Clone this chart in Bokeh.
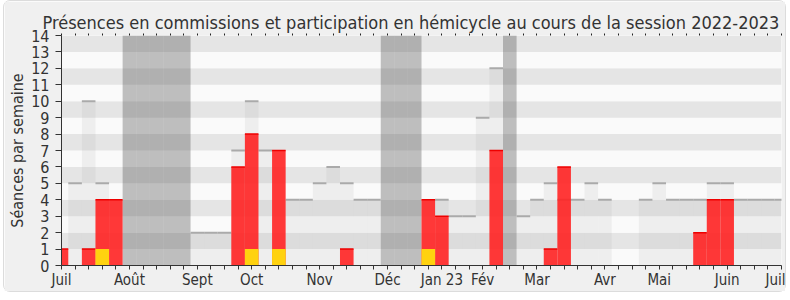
from bokeh.plotting import figure
from bokeh.models import FixedTicker, LinearAxis, Range1d, ColumnDataSource
from bokeh.embed import file_html
from bokeh.resources import INLINE

# ---- data (one value per week, week 0 = first week of July 2022) ----
weeks = list(range(54))
presence_commission = [1, 0, 1, 4, 4, 0, 0, 0, 0, 0,
                       0, 0, 0, 6, 8, 0, 7, 0, 0, 0,
                       0, 1, 0, 0, 0, 0, 0, 4, 3, 0,
                       0, 0, 7, 0, 0, 0, 1, 6, 0, 0,
                       0, 0, 0, 0, 0, 0, 0, 2, 4, 4,
                       0, 0, 0, 0]
questions = [0, 0, 0, 1, 0, 0, 0, 0, 0, 0,
             0, 0, 0, 0, 1, 0, 1, 0, 0, 0,
             0, 0, 0, 0, 0, 0, 0, 1, 0, 0,
             0, 0, 0, 0, 0, 0, 0, 0, 0, 0,
             0, 0, 0, 0, 0, 0, 0, 0, 0, 0,
             0, 0, 0, 0]
hemicycle = [0, 5, 10, 5, 0, 0, 0, 0, 0, 0,
             2, 2, 2, 7, 10, 7, 0, 4, 4, 5,
             6, 5, 4, 4, 0, 0, 0, 0, 4, 3,
             3, 9, 12, 0, 3, 4, 5, 4, 4, 5,
             4, 0, 0, 4, 5, 4, 4, 4, 5, 5,
             4, 4, 4, 4]
vacation_weeks = [5, 6, 7, 8, 9, 24, 25, 26, 33]
month_labels = ["Juil", "Août", "Sept", "Oct", "Nov", "Déc", "Jan 23",
                "Fév", "Mar", "Avr", "Mai", "Juin", "Juil"]
month_weeks = [0, 5, 10, 14, 19, 24, 28, 31, 35, 40, 44, 49, 53]
y_max = 14

FONT = "DejaVu Sans Condensed"
TXT = "#333333"

p = figure(width=783, height=292, margin=(0, 4, 6, 3),
           output_backend="svg", toolbar_location=None,
           x_range=Range1d(0, 53), y_range=Range1d(0, y_max),
           min_border_left=57, min_border_right=6,
           min_border_top=34, min_border_bottom=28,
           title="Présences en commissions et participation en hémicycle au cours de la session 2022-2023")
p.styles = {"border": "1px solid #dcdcdc", "border-radius": "7px"}
p.background_fill_color = "#fafafa"
p.border_fill_color = "#f0f0f0"
p.outline_line_color = None
p.grid.visible = False

p.title.text_font = FONT
p.title.text_font_size = "18px"
p.title.text_font_style = "normal"
p.title.text_color = TXT
p.title.align = "left"
p.title.offset = -19
p.title.standoff = 2

# background bands
band_y = [i + 0.5 for i in range(y_max)]
band_c = ["#fafafa" if i % 2 == 0 else "#e5e5e5" for i in range(y_max)]
p.hbar(y=band_y, height=1, left=0, right=53, fill_color=band_c, line_color=None)

# vacations
p.vbar(x=vacation_weeks, width=1, bottom=0, top=y_max,
       fill_color="#474747", fill_alpha=0.33, line_color=None)

src = ColumnDataSource(dict(w=weeks, hem=hemicycle, com=presence_commission, q=questions))

# hemicycle participation
p.vbar(x="w", width=1, bottom=0, top="hem", source=src,
       fill_color="#999999", fill_alpha=0.12, line_color=None)
hem_top = ColumnDataSource(dict(
    x0=[w - 0.5 for w, h in zip(weeks, hemicycle) if h > 0],
    x1=[w + 0.5 for w, h in zip(weeks, hemicycle) if h > 0],
    y=[h for h in hemicycle if h > 0]))
p.segment(x0="x0", x1="x1", y0="y", y1="y", source=hem_top,
          line_color="#aaaaaa", line_width=2)

# commission presence
p.vbar(x="w", width=1, bottom=0, top="com", source=src,
       fill_color="#ff2222", fill_alpha=0.9, line_color=None)
com_top = ColumnDataSource(dict(
    x0=[w - 0.5 for w, c in zip(weeks, presence_commission) if c > 0],
    x1=[w + 0.5 for w, c in zip(weeks, presence_commission) if c > 0],
    y=[c for c in presence_commission if c > 0]))
p.segment(x0="x0", x1="x1", y0="y", y1="y", source=com_top,
          line_color="#ee0000", line_width=1.5)

# questions
p.vbar(x="w", width=1, bottom=0, top="q", source=src,
       fill_color="#ffd20f", line_color=None)

# axes
xa = p.xaxis[0]
xa.ticker = FixedTicker(ticks=weeks)
xa.major_label_overrides = {w: "" for w in weeks}
xa.major_label_overrides.update({w: lab for w, lab in zip(month_weeks, month_labels)})
xa.major_tick_out = 4
xa.major_tick_in = 0
xa.minor_tick_line_color = None
xa.axis_line_color = "#333333"
xa.major_tick_line_color = "#333333"
xa.major_label_text_font = FONT
xa.major_label_text_font_size = "15px"
xa.major_label_text_color = TXT
xa.major_label_standoff = 1

ya = p.yaxis[0]
ya.ticker = FixedTicker(ticks=list(range(y_max + 1)))
ya.major_tick_out = 6
ya.major_tick_in = 0
ya.minor_tick_line_color = None
ya.axis_line_color = "#333333"
ya.major_tick_line_color = "#333333"
ya.major_label_text_font = FONT
ya.major_label_text_font_size = "16px"
ya.major_label_text_color = TXT
ya.major_label_standoff = 6
ya.axis_label = "Séances par semaine"
ya.axis_label_text_font = FONT
ya.axis_label_text_font_size = "16px"
ya.axis_label_text_font_style = "normal"
ya.axis_label_text_color = TXT
ya.axis_label_standoff = 1

top = LinearAxis(ticker=FixedTicker(ticks=weeks), major_label_text_font_size="0px",
                 axis_line_color=None, major_tick_out=2, major_tick_in=0,
                 major_tick_line_color="#222222", minor_tick_line_color=None)
top.major_label_overrides = {w: "" for w in weeks}
top.major_label_standoff = 0
p.add_layout(top, "above")

open("out.html", "w").write(file_html(p, INLINE))
